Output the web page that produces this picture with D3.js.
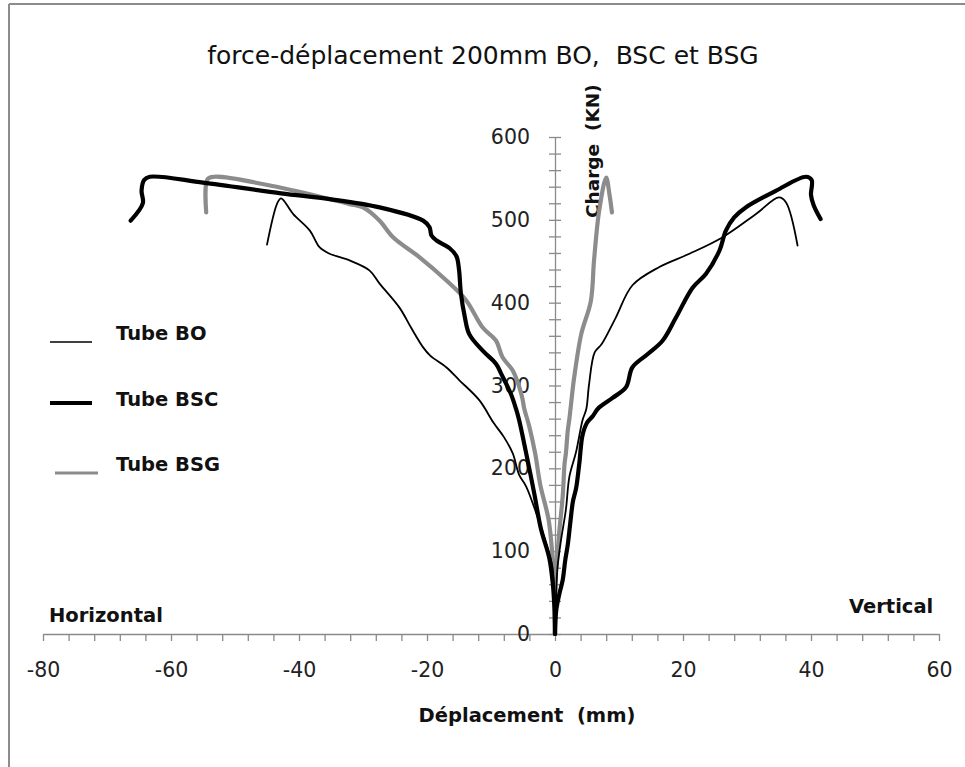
<!DOCTYPE html>
<html>
<head>
<meta charset="utf-8">
<script src="https://cdn.jsdelivr.net/npm/d3@7"></script>
<style>
  html, body { margin: 0; padding: 0; background: #ffffff; }
  svg { display: block; }
  text { font-family: "DejaVu Sans", Verdana, sans-serif; }
</style>
</head>
<body>
<svg id="chart" width="965" height="767"></svg>
<script>
// ---------- DATA ----------
const xTickLabels = [-80, -60, -40, -20, 0, 20, 40, 60];
const yTickLabels = [0, 100, 200, 300, 400, 500, 600];
const seriesNames = ["Tube BO", "Tube BSC", "Tube BSG"];

// [déplacement (mm), charge (KN)] — branche horizontale (négative) et verticale (positive)
const boHorizontal = [[0,0],[-0.1,40],[-0.4,81],[-1.3,107],[-2.9,145],[-4.5,178],[-5.6,192],[-6.6,218],[-8.0,238],[-9.6,255],[-11.8,282],[-14.9,306],[-17.0,322],[-19.5,336],[-20.6,346],[-22.5,370],[-24.3,394],[-27.4,423],[-29.0,439],[-32.1,451],[-35.2,459],[-36.8,467],[-38.3,487],[-40.9,507],[-42.8,526],[-43.4,520],[-45.0,470]];
const boVertical = [[0,0],[0.2,50],[0.4,81],[0.95,114],[1.7,150],[2.25,190],[3.3,220],[4.3,258],[4.9,272],[5.3,300],[6.2,340],[7.3,350],[9.5,382],[12.1,421],[16.3,443],[21.0,459],[26.2,479],[31.4,507],[35.0,527],[36.1,521],[37.9,469]];

const bscHorizontal = [[0,0],[-0.1,33],[-0.36,62],[-0.9,92],[-2.2,127],[-3.2,168],[-4.5,218],[-5.6,258],[-6.1,272],[-6.9,290],[-8.4,314],[-9.2,326],[-11.3,342],[-13.4,362],[-14.1,383],[-14.7,411],[-15.0,440],[-15.4,456],[-16.5,466],[-18.5,475],[-19.3,481],[-19.6,491],[-20.6,499],[-27.4,515],[-35.2,525],[-42.8,532],[-55.0,545],[-63.3,552],[-64.2,548],[-64.6,535],[-64.4,520],[-66.3,499]];
const bscVertical = [[0,0],[0.2,29],[0.7,49],[1.2,65],[1.6,89],[2.0,108],[2.4,135],[2.8,160],[3.3,176],[3.8,206],[4.3,240],[5.0,255],[5.9,263],[6.7,272],[9.0,285],[11.1,298],[12.1,322],[14.5,338],[16.8,354],[18.9,382],[21.5,418],[23.6,435],[25.7,463],[26.7,487],[28.0,503],[29.8,515],[34.5,535],[39.2,552],[40.1,548],[40.0,530],[40.4,518],[41.5,501]];

const bsgHorizontal = [[0,0],[-0.1,70],[-0.4,95],[-1.0,138],[-2.3,180],[-3.1,218],[-4.0,250],[-4.8,272],[-5.2,288],[-6.6,318],[-8.2,334],[-9.2,354],[-11.3,370],[-13.9,403],[-17.0,427],[-21.2,455],[-25.3,479],[-27.4,499],[-30.0,515],[-32.1,519],[-43.0,539],[-53.2,552],[-54.3,549],[-54.5,509]];
const bsgVertical = [[0,0],[0.1,70],[0.3,89],[0.7,126],[1.2,166],[1.5,206],[1.7,218],[2.0,246],[2.25,260],[2.8,298],[3.0,310],[4.1,362],[5.6,402],[6.1,451],[6.9,511],[8.0,551],[8.5,531],[8.9,509]];

// ---------- DRAWING ----------
const svg = d3.select("#chart");
const x = d3.scaleLinear().domain([-80, 60]).range([43, 939]);
const y = d3.scaleLinear().domain([0, 600]).range([634, 137]);
const axisColor = "#8a8a8a";
const fmt = d => String(d); // plain hyphen-minus as in the original

// chart frame (left & top visible)
svg.append("line").attr("x1", 9).attr("y1", 4).attr("x2", 965).attr("y2", 4)
  .attr("stroke", "#8c8c8c").attr("stroke-width", 2);
svg.append("line").attr("x1", 9).attr("y1", 4).attr("x2", 9).attr("y2", 767)
  .attr("stroke", "#8c8c8c").attr("stroke-width", 2);

// title
svg.append("text").attr("x", 483).attr("y", 64).attr("text-anchor", "middle")
  .attr("font-size", "25px").attr("fill", "#111")
  .attr("xml:space", "preserve").style("white-space", "pre")
  .text("force-déplacement 200mm BO,  BSC et BSG");

// X axis (minor ticks every 4)
const xAxisG = svg.append("g").attr("transform", `translate(0,${y(0)})`)
  .call(d3.axisBottom(x).tickValues(d3.range(-80, 61, 4)).tickSize(7).tickFormat("").tickSizeOuter(0));
xAxisG.selectAll("path,line").attr("stroke", axisColor).attr("stroke-width", 1.3);

const xLabG = svg.append("g").attr("transform", `translate(0,${y(0)})`)
  .call(d3.axisBottom(x).tickValues(xTickLabels).tickSize(0).tickPadding(28).tickFormat(fmt));
xLabG.select(".domain").remove();
xLabG.selectAll("text").attr("font-family", "DejaVu Sans").attr("font-size", "20.5px").attr("fill", "#222");

// Y axis (crossing ticks every 20)
const yAxisG = svg.append("g").attr("transform", `translate(${x(0)},0)`)
  .call(d3.axisLeft(y).tickValues(d3.range(0, 601, 20)).tickSize(6).tickFormat("").tickSizeOuter(0));
yAxisG.selectAll(".tick line").attr("x1", 6).attr("x2", -6);
yAxisG.selectAll("path,line").attr("stroke", axisColor).attr("stroke-width", 1.3);

const yLabG = svg.append("g").attr("transform", `translate(${x(0)},0)`)
  .call(d3.axisLeft(y).tickValues(yTickLabels).tickSize(0).tickPadding(25).tickFormat(fmt));
yLabG.select(".domain").remove();
yLabG.selectAll("text").attr("font-family", "DejaVu Sans").attr("font-size", "20.5px").attr("fill", "#222");

// axis titles
svg.append("text").attr("transform", "translate(599,218) rotate(-90)")
  .attr("font-size", "18.5px").attr("font-weight", "bold").attr("fill", "#111")
  .attr("xml:space", "preserve").style("white-space", "pre")
  .text("Charge  (KN)");
svg.append("text").attr("x", 527).attr("y", 722).attr("text-anchor", "middle")
  .attr("font-size", "19.5px").attr("font-weight", "bold").attr("fill", "#111")
  .attr("xml:space", "preserve").style("white-space", "pre").text("Déplacement  (mm)");
svg.append("text").attr("x", 49).attr("y", 622)
  .attr("font-size", "19.5px").attr("font-weight", "bold").attr("fill", "#111").text("Horizontal");
svg.append("text").attr("x", 849).attr("y", 613)
  .attr("font-size", "19.5px").attr("font-weight", "bold").attr("fill", "#111").text("Vertical");

// series
const line = d3.line().x(d => x(d[0])).y(d => y(d[1])).curve(d3.curveCatmullRom.alpha(0.5));
const styles = {
  bo:  { stroke: "#000000", width: 1.8 },
  bsc: { stroke: "#000000", width: 4.2 },
  bsg: { stroke: "#8c8c8c", width: 4.2 }
};
const series = [
  { key: "bsg", data: bsgHorizontal }, { key: "bsg", data: bsgVertical },
  { key: "bsc", data: bscHorizontal }, { key: "bsc", data: bscVertical },
  { key: "bo",  data: boHorizontal },  { key: "bo",  data: boVertical }
];
svg.append("g").selectAll("path").data(series).join("path")
  .attr("d", d => line(d.data))
  .attr("fill", "none")
  .attr("stroke", d => styles[d.key].stroke)
  .attr("stroke-width", d => styles[d.key].width)
  .attr("stroke-linejoin", "round").attr("stroke-linecap", "round");

// legend
const legend = [
  { key: "bo",  name: seriesNames[0], x1: 50, x2: 92, ly: 342, ty: 340 },
  { key: "bsc", name: seriesNames[1], x1: 50, x2: 92, ly: 403, ty: 406 },
  { key: "bsg", name: seriesNames[2], x1: 55, x2: 98, ly: 473, ty: 471 }
];
const lg = svg.append("g").selectAll("g").data(legend).join("g");
lg.append("line").attr("x1", d => d.x1).attr("x2", d => d.x2)
  .attr("y1", d => d.ly).attr("y2", d => d.ly)
  .attr("stroke", d => styles[d.key].stroke)
  .attr("stroke-width", d => d.key === "bo" ? 1.5 : (d.key === "bsc" ? 4 : 3));
lg.append("text").attr("x", 116).attr("y", d => d.ty)
  .attr("font-size", "19.5px").attr("font-weight", "bold").attr("fill", "#111")
  .text(d => d.name);
</script>
</body>
</html>
